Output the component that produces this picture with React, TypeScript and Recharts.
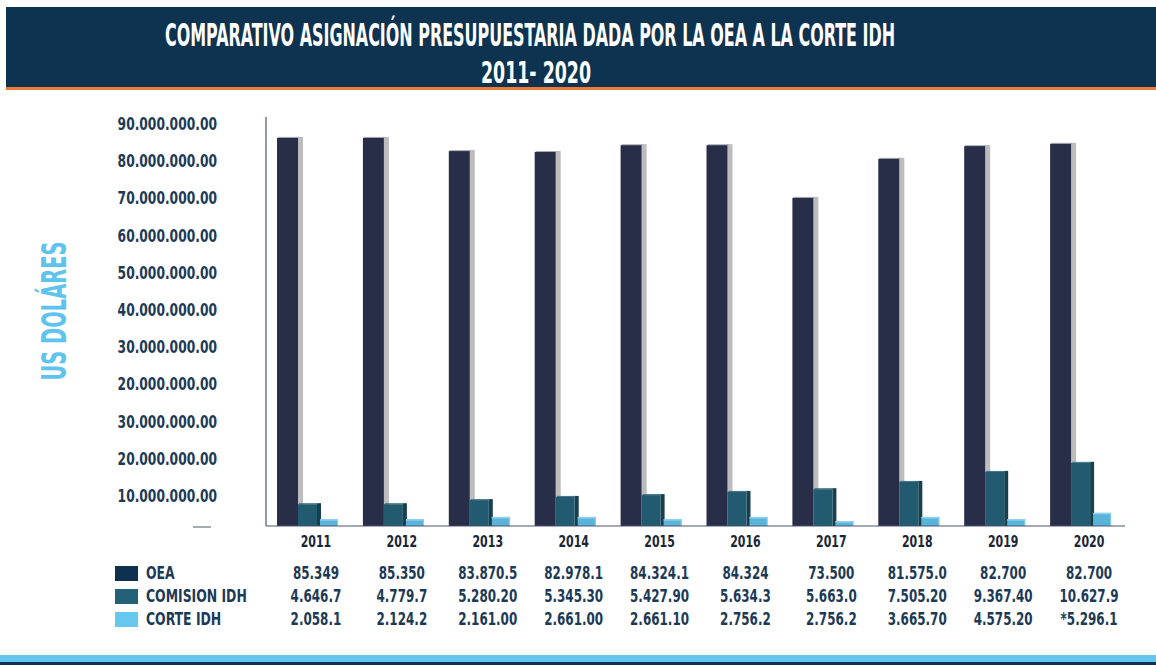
import React from 'react';
import { ComposedChart, Bar, Line, XAxis, YAxis } from 'recharts';

// bar heights (millions of US$)
const years = ['2011', '2012', '2013', '2014', '2015', '2016', '2017', '2018', '2019', '2020'];
const oea = [85.4, 85.4, 82.5, 82.3, 83.8, 83.8, 72.2, 80.8, 83.6, 84.1];
const comision = [4.8, 4.8, 5.7, 6.4, 6.8, 7.5, 8.1, 9.7, 11.9, 13.9];
const corte = [1.5, 1.5, 2.0, 2.0, 1.5, 2.0, 1.1, 2.0, 1.5, 2.9];

// table printed under the axis
const oeaTable = ['85.349', '85.350', '83.870.5', '82.978.1', '84.324.1', '84.324', '73.500', '81.575.0', '82.700', '82.700'];
const comisionTable = ['4.646.7', '4.779.7', '5.280.20', '5.345.30', '5.427.90', '5.634.3', '5.663.0', '7.505.20', '9.367.40', '10.627.9'];
const corteTable = ['2.058.1', '2.124.2', '2.161.00', '2.661.00', '2.661.10', '2.756.2', '2.756.2', '3.665.70', '4.575.20', '*5.296.1'];

// y tick labels, bottom to top, as printed
const axisLabels = [
    '',
    '10.000.000.00',
    '20.000.000.00',
    '30.000.000.00',
    '20.000.000.00',
    '30.000.000.00',
    '40.000.000.00',
    '50.000.000.00',
    '60.000.000.00',
    '70.000.000.00',
    '80.000.000.00',
    '90.000.000.00',
];
const labelTicks = axisLabels.map((_, i) => i);

const seriesNames = ['OEA', 'COMISION IDH', 'CORTE IDH'];
const swatchColors = ['#0e3150', '#256079', '#66c8ef'];

const data = years.map((year, i) => ({
    year,
    oea: oea[i],
    comision: comision[i],
    corte: corte[i],
    base: 0,
}));

const FONT = "'DejaVu Sans Condensed', 'Liberation Sans Narrow', 'DejaVu Sans', sans-serif";
const NAVY = '#0d3350';
const TEXT = '#1c3a56';

// condensed bold text, squeezed horizontally
const Narrow = ({ x, y, anchor = 'middle', size = 17.5, sx = 0.76, fill = TEXT, children }: any) => (
    <text
        transform={`translate(${x},${y}) scale(${sx},1)`}
        textAnchor={anchor}
        dominantBaseline="central"
        fill={fill}
        fontFamily={FONT}
        fontWeight="bold"
        fontSize={size}>
        {children}
    </text>
);

const OeaShape = (props: any) => {
    const { x, y, width, height } = props;
    if (!height) return null;
    return (
        <g>
            <rect x={x + width} y={y - 1} width={5} height={height + 1} fill="#bcbcbe" />
            <rect x={x + 1} y={y - 1} width={width} height={1} fill="#a9aab3" />
            <rect x={x} y={y} width={width} height={height} fill="#282d48" />
        </g>
    );
};

const ComisionShape = (props: any) => {
    const { x, y, width, height } = props;
    if (!height) return null;
    const fw = width - 2;
    return (
        <g>
            <rect x={x + fw} y={y - 1} width={4} height={height + 1} fill="#17404f" />
            <rect x={x + 1} y={y - 1} width={fw} height={1} fill="#3c7085" />
            <rect x={x} y={y} width={fw} height={height} fill="#225a70" />
        </g>
    );
};

const CorteShape = (props: any) => {
    const { x, y, width, height } = props;
    if (!height) return null;
    const fw = width - 3;
    return (
        <g>
            <rect x={x + 1} y={y} width={fw} height={height} fill="#5ab4da" />
            <rect x={x + 1} y={y} width={fw} height={1.5} fill="#93d2ec" />
            <rect x={x + fw} y={y} width={1} height={height} fill="#8ccbe6" />
        </g>
    );
};

const LabelTick = (props: any) => {
    const { x, y, payload } = props;
    if (payload.value === 0) {
        return <line x1={x - 24} x2={x - 6} y1={y + 1} y2={y + 1} stroke="#6d7282" strokeWidth={1.2} />;
    }
    return (
        <Narrow x={x} y={y + 7} anchor="end" sx={0.78}>
            {axisLabels[payload.value]}
        </Narrow>
    );
};

const YearTick = (props: any) => {
    const { x, y, payload } = props;
    const i = years.indexOf(payload.value);
    const cx = x + 7;
    return (
        <g>
            <Narrow x={cx} y={y + 15} size={16.5} sx={0.74} fill="#1a2636">
                {payload.value}
            </Narrow>
            {[oeaTable, comisionTable, corteTable].map((row, r) => (
                <Narrow key={r} x={cx} y={y + 47 + r * 23}>
                    {row[i]}
                </Narrow>
            ))}
        </g>
    );
};

export default function App() {
    return (
        <div style={{ position: 'absolute', left: 0, top: 0, width: 1156, height: 665, background: '#fff', overflow: 'hidden' }}>
            <div style={{ position: 'absolute', left: 6, top: 7, width: 1150, height: 80, background: NAVY }} />
            <div style={{ position: 'absolute', left: 6, top: 87, width: 1150, height: 3, background: '#ec7a3a' }} />
            <div style={{ position: 'absolute', left: 0, top: 655, width: 1156, height: 7, background: '#66c5ed' }} />
            <div style={{ position: 'absolute', left: 0, top: 662, width: 1156, height: 3, background: NAVY }} />

            <svg width={1156} height={665} style={{ position: 'absolute', left: 0, top: 0 }}>
                <text
                    transform="translate(530,35) scale(0.54,1)"
                    textAnchor="middle"
                    dominantBaseline="central"
                    fill="#fff"
                    fontFamily={FONT}
                    fontWeight="bold"
                    fontSize={32}
                    textLength={1352}
                    lengthAdjust="spacingAndGlyphs">
                    COMPARATIVO ASIGNACIÓN PRESUPUESTARIA DADA POR LA OEA A LA CORTE IDH
                </text>
                <text
                    transform="translate(536,73) scale(0.64,1)"
                    textAnchor="middle"
                    dominantBaseline="central"
                    fill="#fff"
                    fontFamily={FONT}
                    fontWeight="bold"
                    fontSize={30}
                    textLength={172}
                    lengthAdjust="spacingAndGlyphs">
                    2011- 2020
                </text>
                <text
                    transform="translate(55,311) rotate(-90) scale(0.635,1)"
                    textAnchor="middle"
                    dominantBaseline="central"
                    fill="#5ec4ee"
                    fontFamily={FONT}
                    fontWeight="bold"
                    fontSize={34}
                    textLength={219}
                    lengthAdjust="spacingAndGlyphs">
                    US DOLÁRES
                </text>
                {seriesNames.map((name, r) => (
                    <g key={name}>
                        <rect x={115} y={566 + r * 23} width={23} height={15} fill={swatchColors[r]} />
                        <Narrow x={146} y={573 + r * 23} anchor="start" sx={0.79}>
                            {name}
                        </Narrow>
                    </g>
                ))}
            </svg>

            <div style={{ position: 'absolute', left: 0, top: 0 }}>
                <ComposedChart
                    width={1156}
                    height={665}
                    data={data}
                    barSize={21}
                    barGap={0}
                    margin={{ top: 117, right: 31, bottom: 9, left: 0 }}>
                    <XAxis
                        dataKey="year"
                        height={130}
                        tickSize={0}
                        tickMargin={0}
                        tickLine={false}
                        axisLine={{ stroke: '#4b5572', strokeWidth: 1.2 }}
                        tick={<YearTick />}
                        interval={0}
                    />
                    <YAxis yAxisId="v" domain={[0, 90]} hide />
                    <YAxis
                        yAxisId="lbl"
                        width={266}
                        domain={[0, 11]}
                        allowDataOverflow
                        ticks={labelTicks}
                        interval={0}
                        tickSize={0}
                        tickMargin={49}
                        tickLine={false}
                        axisLine={{ stroke: '#4a5272', strokeWidth: 1.2 }}
                        tick={<LabelTick />}
                    />
                    <Line yAxisId="lbl" dataKey="base" stroke="none" dot={false} activeDot={false} legendType="none" isAnimationActive={false} />
                    <Bar yAxisId="v" dataKey="oea" shape={<OeaShape />} isAnimationActive={false} />
                    <Bar yAxisId="v" dataKey="comision" shape={<ComisionShape />} isAnimationActive={false} />
                    <Bar yAxisId="v" dataKey="corte" shape={<CorteShape />} isAnimationActive={false} />
                </ComposedChart>
            </div>
        </div>
    );
}
